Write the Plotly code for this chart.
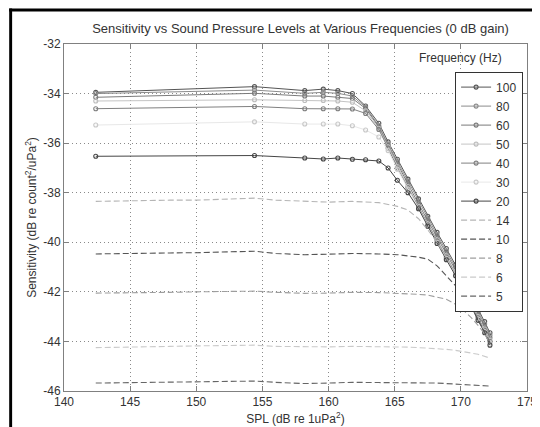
import plotly.graph_objects as go

# ---------------- data ----------------
SPL_SOLID = [142.4, 154.4, 158.2, 159.6, 160.7, 161.8, 162.8, 163.8, 164.5, 165.2, 166.0,
             166.8, 167.5, 168.2, 168.9, 169.6, 170.2, 170.8, 171.3, 171.8, 172.2]
SPL_DASH = [142.4, 144.0, 146.0, 148.0, 150.0, 152.0, 154.4, 156.0, 158.2, 160.0, 161.8, 163.8,
            165.2, 166.0, 166.8, 167.5, 168.2, 168.9, 169.6, 170.2, 170.8, 171.3, 171.8, 172.2]

S100 = [-33.95, -33.72, -33.88, -33.82, -33.88, -34.00, -34.50, -35.20, -35.95, -36.65, -37.45,
        -38.25, -38.95, -39.60, -40.25, -40.90, -41.50, -42.15, -42.70, -43.20, -43.65]
S80 = [-34.00, -33.86, -33.99, -33.95, -33.99, -34.10, -34.55, -35.30, -36.05, -36.75, -37.55,
       -38.35, -39.05, -39.70, -40.35, -41.00, -41.60, -42.25, -42.80, -43.30, -43.75]
S60 = [-34.15, -33.99, -34.10, -34.10, -34.15, -34.20, -34.60, -35.35, -36.10, -36.85, -37.65,
       -38.45, -39.15, -39.80, -40.45, -41.10, -41.70, -42.35, -42.90, -43.40, -43.85]
S50 = [-34.30, -34.25, -34.28, -34.28, -34.30, -34.35, -34.70, -35.40, -36.15, -36.95, -37.75,
       -38.55, -39.25, -39.90, -40.55, -41.20, -41.80, -42.45, -43.00, -43.50, -43.95]
S40 = [-34.61, -34.52, -34.61, -34.61, -34.61, -34.62, -34.80, -35.45, -36.20, -37.00, -37.80,
       -38.60, -39.30, -39.95, -40.60, -41.25, -41.85, -42.50, -43.05, -43.55, -44.00]
S30 = [-35.27, -35.14, -35.23, -35.23, -35.23, -35.30, -35.47, -35.75, -36.30, -37.05, -37.85,
       -38.65, -39.35, -40.00, -40.65, -41.30, -41.90, -42.55, -43.10, -43.60, -44.05]
S20 = [-36.53, -36.50, -36.60, -36.64, -36.60, -36.65, -36.67, -36.72, -37.00, -37.50, -38.00,
       -38.65, -39.35, -40.05, -40.70, -41.35, -41.95, -42.60, -43.15, -43.65, -44.15]

S14 = [-38.35, -38.33, -38.32, -38.30, -38.30, -38.25, -38.22, -38.30, -38.35, -38.38, -38.35, -38.40,
       -38.55, -38.70, -39.05, -39.50, -40.00, -40.60, -41.25, -41.85, -42.50, -43.05, -43.55, -44.00]
S10 = [-40.47, -40.45, -40.45, -40.43, -40.42, -40.38, -40.36, -40.45, -40.50, -40.48, -40.45, -40.47,
       -40.50, -40.55, -40.60, -40.68, -40.95, -41.35, -41.75, -42.10, -42.60, -43.10, -43.60, -44.05]
S8 = [-42.05, -42.05, -42.03, -42.02, -42.00, -41.98, -41.97, -42.02, -42.06, -42.05, -42.02, -42.03,
      -42.05, -42.07, -42.10, -42.13, -42.20, -42.30, -42.50, -42.75, -43.05, -43.35, -43.70, -44.10]
S6 = [-44.25, -44.23, -44.20, -44.20, -44.18, -44.17, -44.15, -44.20, -44.22, -44.22, -44.20, -44.20,
      -44.22, -44.23, -44.25, -44.27, -44.30, -44.32, -44.36, -44.40, -44.47, -44.52, -44.60, -44.67]
S5 = [-45.68, -45.67, -45.66, -45.64, -45.63, -45.60, -45.60, -45.65, -45.70, -45.68, -45.65, -45.66,
      -45.66, -45.67, -45.67, -45.68, -45.68, -45.70, -45.72, -45.74, -45.76, -45.77, -45.78, -45.80]

X_TICKS = [140, 145, 150, 155, 160, 165, 170, 175]
Y_TICKS = [-46, -44, -42, -40, -38, -36, -34, -32]

FONT = "Liberation Sans, Arial, sans-serif"

fig = go.Figure()

solid = [
    ("100", S100, "#555555", "#555555"),
    ("80", S80, "#8c8c8c", "#8c8c8c"),
    ("60", S60, "#7a7a7a", "#7a7a7a"),
    ("50", S50, "#c4c4c4", "#bdbdbd"),
    ("40", S40, "#808080", "#808080"),
    ("30", S30, "#e8e8e8", "#c8c8c8"),
    ("20", S20, "#454545", "#454545"),
]
for name, ys, lc, mc in solid:
    fig.add_trace(go.Scatter(
        x=SPL_SOLID, y=ys, name=name, mode="lines+markers",
        line=dict(color=lc, width=1),
        marker=dict(symbol="circle-open", size=4, color=mc, line=dict(width=1.1, color=mc)),
    ))

dashed = [
    ("14", S14, "#b5b5b5"),
    ("10", S10, "#555555"),
    ("8", S8, "#9e9e9e"),
    ("6", S6, "#cacaca"),
    ("5", S5, "#666666"),
]
for name, ys, lc in dashed:
    fig.add_trace(go.Scatter(
        x=SPL_DASH, y=ys, name=name, mode="lines",
        line=dict(color=lc, width=1.1, dash="6px,3px"),
    ))

axis_common = dict(
    showline=True, linecolor="#808080", linewidth=1, mirror="ticks",
    ticks="inside", ticklen=5, tickcolor="#808080",
    showgrid=True, gridcolor="#8a8a8a", gridwidth=1, griddash="1px,3px",
    zeroline=False, ticklabeloverflow="allow",
    tickfont=dict(family=FONT, size=12, color="#333333"),
)

fig.update_xaxes(
    range=[140, 175], tickvals=X_TICKS, ticktext=[str(v) for v in X_TICKS],
    title=dict(text="SPL (dB re 1uPa<sup>2</sup>)", font=dict(family=FONT, size=12, color="#333333"),
               standoff=6),
    **axis_common,
)
fig.update_yaxes(
    range=[-46, -32], tickvals=Y_TICKS, ticktext=[str(v) for v in Y_TICKS],
    title=dict(text="Sensitivity (dB re count<sup>2</sup>/uPa<sup>2</sup>)",
               font=dict(family=FONT, size=12, color="#333333"), standoff=4),
    **axis_common,
)

W, H = 540, 427
L, R, T, B = 56, 11, 36, 39
pw, ph = W - L - R, H - T - B

fig.update_layout(
    width=W, height=H,
    margin=dict(l=L, r=R, t=T, b=B),
    paper_bgcolor="white", plot_bgcolor="white",
    title=dict(text="Sensitivity vs Sound Pressure Levels at Various Frequencies (0 dB gain)",
               x=(L + pw / 2) / W, xanchor="center", y=1 - 20 / H, yanchor="middle",
               font=dict(family=FONT, size=13, color="#333333")),
    legend=dict(
        x=(525 - L) / pw, xanchor="right", y=(H - B - 64) / ph, yanchor="top",
        bgcolor="white", bordercolor="#333333", borderwidth=1,
        font=dict(family=FONT, size=12, color="#333333"),
        itemwidth=30, tracegroupgap=0,
    ),
    showlegend=True,
    annotations=[
        dict(text="Frequency (Hz)", xref="paper", yref="paper",
             x=(461 - L) / pw, y=(H - B - 50) / ph, xanchor="center", yanchor="middle",
             showarrow=False, font=dict(family=FONT, size=12, color="#333333")),
    ],
    shapes=[
        dict(type="rect", xref="paper", yref="paper",
             x0=-L / pw, x1=-(L - 3) / pw, y0=-B / ph, y1=(ph + T) / ph,
             fillcolor="black", line=dict(width=0), layer="above"),
        dict(type="rect", xref="paper", yref="paper",
             x0=-L / pw, x1=(pw + R) / pw, y0=(ph + T - 3) / ph, y1=(ph + T) / ph,
             fillcolor="black", line=dict(width=0), layer="above"),
    ],
)

fig.write_html("out.html")
